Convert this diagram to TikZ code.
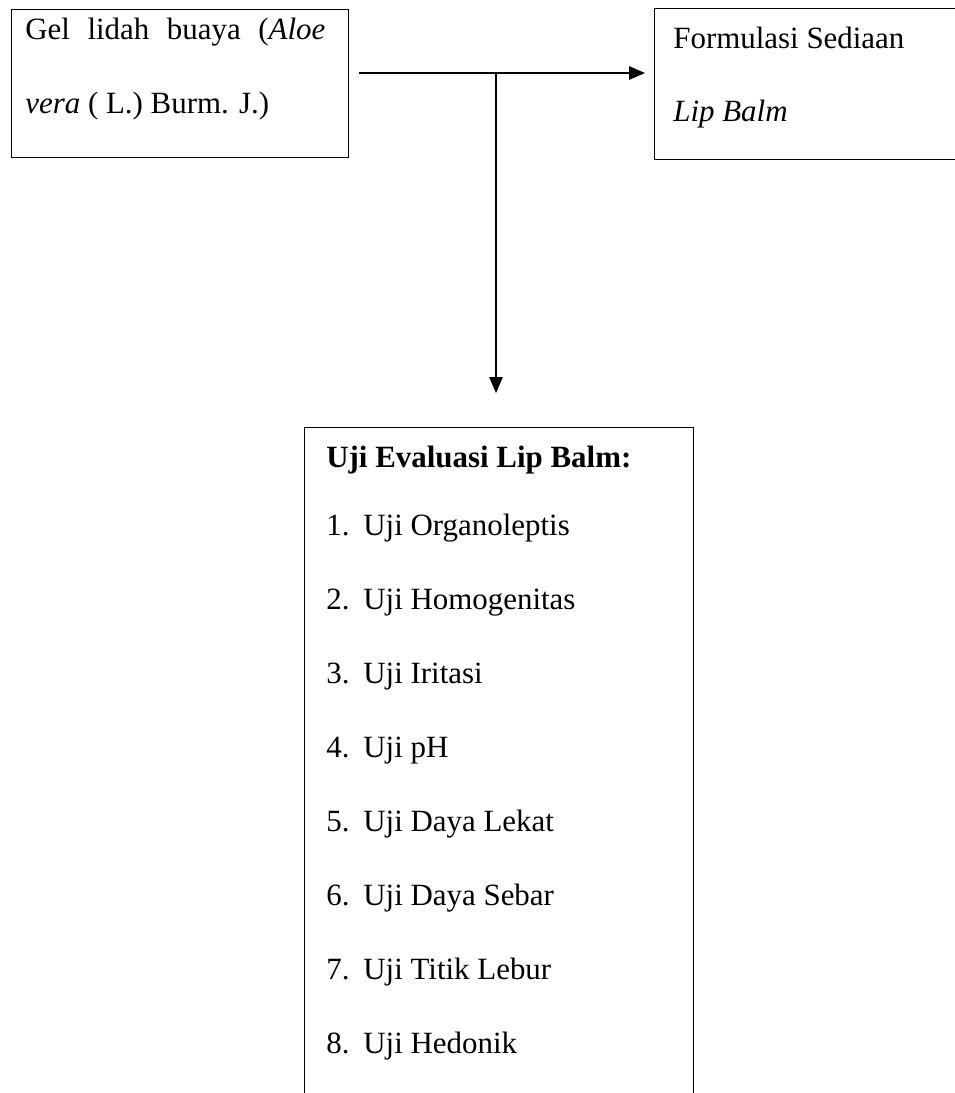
\documentclass[tikz,border=0pt]{standalone}
\usepackage{fontspec}
\setmainfont{Liberation Serif}
\usepackage{xcolor}
\usepackage{tikz}
\usetikzlibrary{arrows.meta,positioning}
\tikzset{
  panel/.style={rectangle,draw=black,line width=0.8pt,fill=none,inner sep=0pt},
  txt/.style={anchor=base west,inner sep=0pt,font=\fontsize{17.6}{42}\selectfont},
  flow/.style={-{Triangle[length=0.32cm,width=0.27cm]},line width=0.8pt,draw=black},
}

\begin{document}
\begin{tikzpicture}[x=0.02cm,y=-0.02cm]
  \path[use as bounding box,clip] (0,0) rectangle (955,1093);
  \node[panel,anchor=north west,minimum width=6.74cm,minimum height=2.96cm] (gel) at (11,9) {};
  \node[panel,anchor=north west,minimum width=7.2cm,minimum height=3.02cm] (form) at (654,8) {};
  \node[panel,anchor=north west,minimum width=7.78cm,minimum height=14cm] (uji) at (304,427) {};

  \node[txt] (gelA) at (25,39) {\makebox[6.0cm][s]{Gel lidah buaya (\textit{Aloe}}};
  \node[txt] (gelB) at (25,113) {\textit{vera} ( L.) Burm. J.)};
  \node[txt] (formA) at (673,48) {Formulasi Sediaan};
  \node[txt] (formB) at (673,121) {\textit{Lip Balm}};
  \node[txt] (ujiT) at (326,467) {\textbf{Uji Evaluasi Lip Balm:}};
  \foreach \item [count=\i] in {Uji Organoleptis,Uji Homogenitas,Uji Iritasi,Uji pH,
      Uji Daya Lekat,Uji Daya Sebar,Uji Titik Lebur,Uji Hedonik}
    \node[txt] (uji\i) at (326,{535+74*(\i-1)}) {\makebox[0.74cm][l]{\i.}\item};

  \coordinate (split) at (496,73);
  \draw[flow,shorten <=0.2cm,shorten >=0.18cm] (gel.east|-split) -- (form.west|-split);
  \draw[flow,shorten >=0.68cm] (split) -- (split|-uji.north);
\end{tikzpicture}
\end{document}
